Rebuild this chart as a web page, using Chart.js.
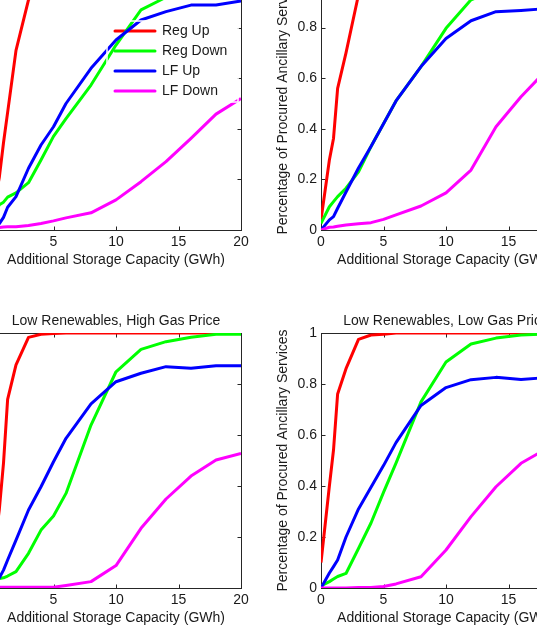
<!DOCTYPE html>
<html><head><meta charset="utf-8">
<script src="https://cdn.jsdelivr.net/npm/chart.js@4.4.1/dist/chart.umd.min.js"></script>
<style>
html,body{margin:0;padding:0;background:#fff;}
#wrap{position:relative;width:537px;height:630px;overflow:hidden;background:#fff;}
canvas{position:absolute;}
</style></head><body>
<div id="wrap"></div>
<script>
// ---- data ----
const xValues = [0, 0.67, 1, 1.33, 2, 3, 4, 5, 6, 8, 10, 12, 14, 16, 18, 20];
const xTicks = [0, 5, 10, 15, 20];
const yTicks = [0, 0.2, 0.4, 0.6, 0.8, 1];
const yTickLabels = ['0', '0.2', '0.4', '0.6', '0.8', '1'];
const seriesLabels = ['Reg Up', 'Reg Down', 'LF Up', 'LF Down'];
const seriesColors = ['#ff0000', '#00ff00', '#0000ff', '#ff00ff'];
const panelTitles = ['High Renewables, High Gas Price', 'High Renewables, Low Gas Price',
                     'Low Renewables, High Gas Price', 'Low Renewables, Low Gas Price'];

const hrhgRegUp   = [0.03, 0.21, 0.345, 0.465, 0.71, 0.91, 0.98, 0.99, 1, 1, 1, 1, 1, 1, 1, 1];
const hrhgRegDown = [0.03, 0.10, 0.11, 0.13, 0.147, 0.187, 0.277, 0.37, 0.44, 0.573, 0.731, 0.87, 0.92, 0.95, 0.97, 0.98];
const hrhgLfUp    = [0.0, 0.025, 0.05, 0.09, 0.132, 0.244, 0.336, 0.408, 0.50, 0.639, 0.751, 0.83, 0.863, 0.889, 0.889, 0.905];
const hrhgLfDown  = [0.0, 0.01, 0.012, 0.013, 0.013, 0.018, 0.026, 0.036, 0.048, 0.068, 0.119, 0.191, 0.27, 0.362, 0.458, 0.52];

const hrlgRegUp   = [0.04, 0.277, 0.362, 0.56, 0.70, 0.93, 0.98, 0.99, 1, 1, 1, 1, 1, 1, 1, 1];
const hrlgRegDown = [0.026, 0.092, 0.112, 0.132, 0.165, 0.23, 0.33, 0.42, 0.51, 0.646, 0.797, 0.91, 0.95, 0.97, 0.985, 0.99];
const hrlgLfUp    = [0.0, 0.04, 0.053, 0.086, 0.15, 0.245, 0.33, 0.42, 0.51, 0.646, 0.757, 0.827, 0.863, 0.868, 0.875, 0.88];
const hrlgLfDown  = [0.0, 0.011, 0.012, 0.015, 0.02, 0.025, 0.029, 0.042, 0.06, 0.095, 0.147, 0.237, 0.408, 0.527, 0.63, 0.70];

const lrhgRegUp   = [0.05, 0.31, 0.49, 0.74, 0.875, 0.983, 0.995, 0.998, 1, 1, 1, 1, 1, 1, 1, 1];
const lrhgRegDown = [0.02, 0.037, 0.04, 0.047, 0.064, 0.136, 0.227, 0.282, 0.371, 0.639, 0.848, 0.936, 0.966, 0.983, 0.995, 0.995];
const lrhgLfUp    = [0.01, 0.04, 0.07, 0.11, 0.188, 0.306, 0.397, 0.495, 0.587, 0.722, 0.809, 0.842, 0.868, 0.862, 0.872, 0.872];
const lrhgLfDown  = [0.0, 0.003, 0.003, 0.003, 0.003, 0.003, 0.003, 0.003, 0.01, 0.025, 0.088, 0.234, 0.349, 0.439, 0.502, 0.528];

const lrlgRegUp   = [0.10, 0.40, 0.541, 0.761, 0.86, 0.975, 0.992, 0.995, 1, 1, 1, 1, 1, 1, 1, 1];
const lrlgRegDown = [0.008, 0.025, 0.035, 0.045, 0.057, 0.155, 0.255, 0.375, 0.49, 0.73, 0.886, 0.957, 0.98, 0.992, 0.996, 1.0];
const lrlgLfUp    = [0.0, 0.059, 0.084, 0.11, 0.20, 0.31, 0.395, 0.48, 0.57, 0.716, 0.786, 0.817, 0.826, 0.818, 0.825, 0.83];
const lrlgLfDown  = [0.0, 0.0, 0.0, 0.0, 0.0, 0.002, 0.002, 0.006, 0.016, 0.044, 0.149, 0.28, 0.397, 0.489, 0.545, 0.59];

const panelSeries = [
  [hrhgRegUp, hrhgRegDown, hrhgLfUp, hrhgLfDown],
  [hrlgRegUp, hrlgRegDown, hrlgLfUp, hrlgLfDown],
  [lrhgRegUp, lrhgRegDown, lrhgLfUp, lrhgLfDown],
  [lrlgRegUp, lrlgRegDown, lrlgLfUp, lrlgLfDown]
];
const xTitle = 'Additional Storage Capacity (GWh)';
const yTitle = 'Percentage of Procured Ancillary Services';

// ---- layout ----
const FONT = '"Liberation Sans", Arial, Helvetica, sans-serif';
const TXT = '#1a1a1a';
const panelBoxes = [
  {left: -63, top: -47, w: 318, h: 319, legend: true},
  {left: 267, top: -47, w: 318, h: 319, legend: false},
  {left: -63, top: 309, w: 318, h: 321, legend: false},
  {left: 267, top: 309, w: 318, h: 321, legend: false}
];

const frameTicks = {
  id: 'frameTicks',
  beforeDatasetsDraw(chart) {
    const {ctx, chartArea: a} = chart;
    const xs = chart.scales.x, ys = chart.scales.y;
    const L = a.left + 0.5, R = a.right + 0.5, T = a.top + 0.5, B = a.bottom + 0.5;
    ctx.save();
    ctx.strokeStyle = '#262626';
    ctx.lineWidth = 1;
    ctx.strokeRect(L, T, R - L, B - T);
    ctx.beginPath();
    xs.ticks.forEach(t => {
      const p = Math.round(xs.getPixelForValue(t.value)) + 0.5;
      ctx.moveTo(p, B); ctx.lineTo(p, B - 4);
      ctx.moveTo(p, T); ctx.lineTo(p, T + 4);
    });
    ys.ticks.forEach(t => {
      const p = Math.round(ys.getPixelForValue(t.value)) + 0.5;
      ctx.moveTo(L, p); ctx.lineTo(L + 4, p);
      ctx.moveTo(R, p); ctx.lineTo(R - 4, p);
    });
    ctx.stroke();
    ctx.restore();
  }
};

const legendPlace = {
  id: 'legendPlace',
  afterLayout(chart, args, opts) {
    const lg = chart.legend;
    if (!lg || !opts || opts.dx === undefined) return;
    const a = chart.chartArea;
    const w = lg.width, h = lg.height;
    lg.left = a.left + opts.dx; lg.top = a.top + opts.dy;
    lg.right = lg.left + w; lg.bottom = lg.top + h;
  },
  afterDatasetsDraw(chart, args, opts) {
    if (!opts || opts.dx === undefined) return;
    const {ctx, chartArea: a} = chart;
    ctx.save();
    ctx.strokeStyle = '#ffffff';
    ctx.lineWidth = 1.5;
    ctx.strokeRect(a.left + opts.fx, a.top + opts.fy, opts.fw, opts.fh);
    ctx.restore();
  }
};

const wrap = document.getElementById('wrap');
panelBoxes.forEach((box, i) => {
  const cv = document.createElement('canvas');
  cv.width = box.w; cv.height = box.h;
  cv.style.left = box.left + 'px'; cv.style.top = box.top + 'px';
  cv.style.width = box.w + 'px'; cv.style.height = box.h + 'px';
  wrap.appendChild(cv);

  const datasets = panelSeries[i].map((vals, k) => ({
    label: seriesLabels[k],
    data: xValues.map((x, j) => ({x: x, y: vals[j]})),
    borderColor: seriesColors[k],
    backgroundColor: seriesColors[k],
    borderWidth: 3,
    pointRadius: 0,
    tension: 0,
    fill: false,
    borderJoinStyle: 'round',
    order: 4 - k
  }));

  new Chart(cv, {
    type: 'line',
    data: {datasets},
    options: {
      responsive: false,
      animation: false,
      devicePixelRatio: 1,
      layout: {padding: {left: 8, right: 14, top: 4, bottom: 4}},
      plugins: {
        title: {
          display: true, text: panelTitles[i], color: TXT, fullSize: false,
          font: {family: FONT, size: 14, weight: 'normal', lineHeight: '16px'},
          padding: {top: 0, bottom: 4}
        },
        legend: box.legend ? {
          display: true, position: 'chartArea', align: 'start',
          labels: {
            boxWidth: 40, boxHeight: 0, padding: 6, color: TXT,
            font: {family: FONT, size: 14},
            sort: (a, b) => a.datasetIndex - b.datasetIndex
          }
        } : {display: false},
        legendPlace: box.legend ? {dx: 118, dy: 41, fx: 116, fy: 44, fw: 131, fh: 81} : {},
        tooltip: {enabled: false}
      },
      scales: {
        x: {
          type: 'linear', min: 0, max: 20,
          afterBuildTicks: s => { s.ticks = xTicks.map(v => ({value: v})); },
          afterFit: s => { s.height = 38; },
          grid: {display: false, drawTicks: false},
          border: {display: false},
          ticks: {color: TXT, padding: 4, maxRotation: 0, font: {family: FONT, size: 14, lineHeight: 1.2}},
          title: {display: true, text: xTitle, color: TXT, padding: {top: 0, bottom: 0},
                  font: {family: FONT, size: 14, lineHeight: '16px'}}
        },
        y: {
          type: 'linear', min: 0, max: 1,
          afterBuildTicks: s => { s.ticks = yTicks.map(v => ({value: v})); },
          afterFit: s => { s.width = 46; },
          grid: {display: false, drawTicks: false},
          border: {display: false},
          ticks: {color: TXT, padding: 4, font: {family: FONT, size: 14, lineHeight: 1.2},
                  callback: (v, idx) => yTickLabels[yTicks.indexOf(v)] ?? String(v)},
          title: {display: true, text: yTitle, color: TXT, padding: {top: 0, bottom: 0},
                  font: {family: FONT, size: 14, lineHeight: '16px'}}
        }
      }
    },
    plugins: [frameTicks, legendPlace]
  });
});
</script>
</body></html>
